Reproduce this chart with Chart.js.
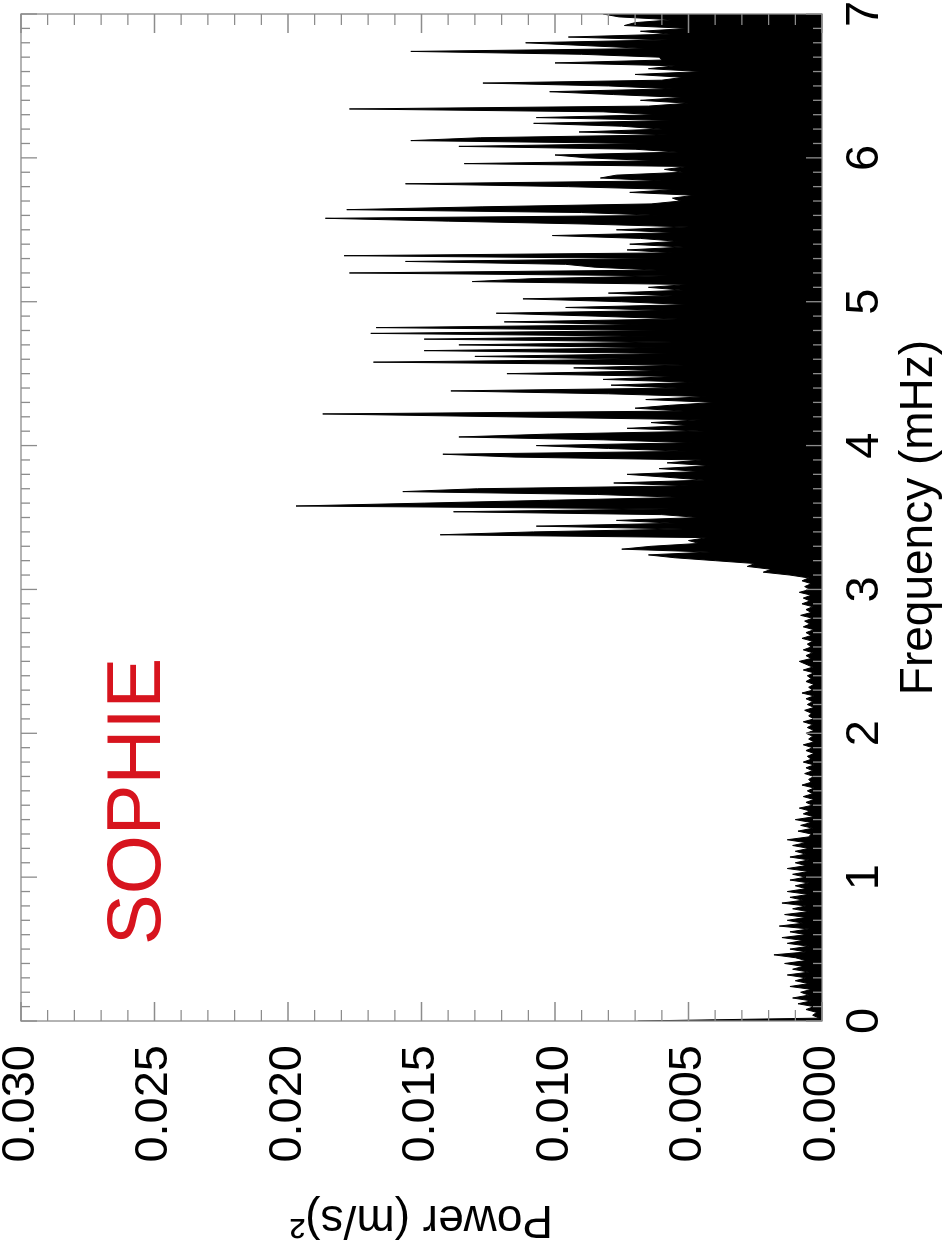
<!DOCTYPE html>
<html>
<head>
<meta charset="utf-8">
<script src="https://cdn.jsdelivr.net/npm/chart.js@4"></script>
<style>
  html, body { margin: 0; padding: 0; background: #fff; overflow: hidden; }
  #wrap {
    position: absolute; left: 0; top: 0;
    width: 1254px; height: 947px;
    transform-origin: 0 0;
    transform: translateY(1254px) rotate(-90deg);
  }
</style>
</head>
<body>
<div id="wrap"><canvas id="chart" width="1254" height="947"></canvas></div>
<script>
// power spectrum, values in 1e-3 (m/s)^2, sampled every 0.02 mHz
const freqStep = 0.02

// 0.00 - 1.28 mHz
const lowStart = 0
const lowBand = [
  6.9, 0.1, 0.35, 0.2, 0.6, 0.3, 0.9, 0.4, 1.1, 0.5,
  0.8, 0.4, 1.2, 0.5, 1.0, 0.6, 1.3, 0.5, 1.1, 0.7,
  1.4, 0.6, 1.0, 1.8, 0.6, 1.2, 0.5, 1.3, 0.7, 1.5,
  0.6, 1.2, 0.5, 1.6, 0.7, 1.3, 0.6, 1.4, 0.5, 1.1,
  0.6, 1.5, 0.7, 1.2, 0.5, 1.3, 0.6, 1.0, 0.5, 1.2,
  0.6, 1.1, 0.5, 1.3, 0.6, 1.0, 0.5, 1.2, 0.6, 1.0,
  0.5, 1.1, 0.6, 1.3, 0.5
]

// 1.30 - 3.08 mHz
const midStart = 1.30
const midBand = [
  0.4, 0.9, 0.35, 0.8, 0.4, 1.0, 0.3, 0.7, 0.45, 0.85, 0.35,
  0.6, 0.3, 0.7, 0.35, 0.55, 0.3, 0.75, 0.4, 0.5, 0.3, 0.65, 0.35,
  0.6, 0.3, 0.7, 0.4, 0.55, 0.3, 0.6, 0.35, 0.7, 0.3, 0.5, 0.35,
  0.6, 0.3, 0.55, 0.35, 0.7, 0.3, 0.5, 0.4, 0.65, 0.3, 0.55, 0.35,
  0.6, 0.3, 0.75, 0.35, 0.5, 0.3, 0.6, 0.4, 0.55, 0.3, 0.7, 0.35, 0.6,
  0.85, 0.4, 0.6, 0.35, 0.7, 0.4, 0.55, 0.35, 0.75, 0.4,
  0.6, 0.3, 0.7, 0.45, 0.65, 0.35, 0.8, 0.4, 0.6, 0.35,
  0.75, 0.45, 0.7, 0.4, 0.85, 0.45, 0.65, 0.4, 0.75, 0.5
]

// 3.10 - 7.00 mHz (p-mode region)
const modeStart = 3.10
const modeBand = [
  1.2, 2.2, 1.9, 2.8, 2.5, 4.0, 5.5, 6.5, 4.2, 7.5,
  6.4, 4.6, 5.0, 4.3, 14.3, 10.8, 5.2, 10.7, 5.5, 7.7,
  4.6, 6.0, 13.8, 5.7, 19.7, 14.9, 10.2, 5.2, 8.4, 15.7,
  12.9, 5.0, 7.8, 4.4, 5.8, 7.3, 4.6, 6.1, 4.2, 5.8,
  4.5, 11.5, 14.2, 5.0, 8.0, 10.7, 4.8, 8.2, 13.6, 10.2,
  4.4, 7.3, 5.0, 6.4, 4.5, 11.8, 18.7, 5.2, 7.0, 5.7,
  4.0, 6.6, 4.3, 8.0, 13.9, 5.4, 7.9, 4.8, 8.2, 5.5,
  11.8, 6.0, 9.3, 5.2, 16.8, 7.0, 13.0, 5.5, 14.9, 6.2,
  13.6, 5.6, 14.9, 6.5, 16.9, 5.8, 16.7, 6.8, 11.9, 5.4,
  8.5, 12.2, 5.8, 9.6, 5.0, 7.5, 11.2, 5.6, 8.0, 5.2,
  6.5, 5.0, 13.1, 10.9, 5.8, 17.7, 6.2, 8.5, 9.6, 15.6,
  6.0, 17.9, 5.6, 7.3, 5.2, 7.2, 5.4, 6.8, 10.1, 5.5,
  7.7, 5.0, 8.8, 14.0, 18.6, 6.0, 9.0, 17.8, 12.7, 6.4,
  5.3, 5.6, 4.8, 7.2, 5.5, 9.5, 15.6, 6.0, 8.3, 7.7,
  5.2, 5.9, 5.0, 13.4, 6.2, 8.8, 10.0, 5.4, 7.0, 13.6,
  6.6, 15.4, 12.8, 5.8, 9.1, 6.0, 7.5, 10.8, 5.5, 10.7,
  6.2, 8.2, 17.7, 6.5, 5.0, 6.8, 5.2, 7.8, 10.2, 5.6,
  8.0, 12.7, 6.0, 5.2, 7.0, 4.5, 6.5, 5.5, 10.0, 6.0,
  6.1, 9.0, 15.4, 6.5, 8.8, 11.1, 5.8, 9.5, 5.7, 6.8,
  5.0, 7.4, 7.0, 5.6, 7.6, 8.2
]

const freqTicks = [0, 1, 2, 3, 4, 5, 6, 7]
const powerTicks = [0, 0.005, 0.010, 0.015, 0.020, 0.025, 0.030]

const points = []
for (const [start, band] of [[lowStart, lowBand], [midStart, midBand], [modeStart, modeBand]]) {
  band.forEach((v, i) => points.push({ x: start + i * freqStep, y: v / 1000 }))
}

const font = { family: '"Liberation Sans", Arial, sans-serif', size: 47 }

// inward ticks on all four sides + grey frame
const frame = {
  id: 'frame',
  afterDatasetsDraw(chart) {
    const { ctx, chartArea: a, scales: { x, y } } = chart
    ctx.save()
    ctx.strokeStyle = '#8c8c8c'
    ctx.lineWidth = 1.3
    ctx.beginPath()
    for (let i = 0; i <= 70; i++) {
      const px = x.getPixelForValue(i / 10)
      const len = i % 10 === 0 ? 16 : 9
      ctx.moveTo(px, a.top); ctx.lineTo(px, a.top + len)
      ctx.moveTo(px, a.bottom); ctx.lineTo(px, a.bottom - len)
    }
    for (let j = 0; j <= 30; j++) {
      const py = y.getPixelForValue(j / 1000)
      const len = j % 5 === 0 ? 19 : 11
      ctx.moveTo(a.left, py); ctx.lineTo(a.left + len, py)
      ctx.moveTo(a.right, py); ctx.lineTo(a.right - len, py)
    }
    ctx.stroke()
    ctx.strokeRect(a.left, a.top, a.right - a.left, a.bottom - a.top)

    ctx.fillStyle = '#d7141e'
    ctx.font = '76px "Liberation Sans", Arial, sans-serif'
    ctx.textBaseline = 'alphabetic'
    ctx.fillText('SOPHIE', a.left + 76, a.top + 139)
    ctx.restore()
  }
}

new Chart(document.getElementById('chart'), {
  type: 'line',
  data: {
    datasets: [{
      data: points,
      borderColor: '#000',
      backgroundColor: '#000',
      borderWidth: 1,
      pointRadius: 0,
      fill: 'origin',
      tension: 0
    }]
  },
  options: {
    responsive: false,
    animation: false,
    devicePixelRatio: 1,
    layout: { padding: { top: 21, right: 14, left: 0, bottom: 0 } },
    plugins: { legend: { display: false }, tooltip: { enabled: false } },
    scales: {
      x: {
        type: 'linear',
        min: 0,
        max: 7,
        afterBuildTicks: (s) => { s.ticks = freqTicks.map((v) => ({ value: v })) },
        afterFit: (s) => { s.height = 125; s.paddingLeft = 0; s.paddingRight = 0 },
        ticks: { font, color: '#000', padding: 7, maxRotation: 0, callback: (v) => String(v) },
        grid: { display: false },
        border: { display: false },
        title: { display: true, text: 'Frequency (mHz)', font: { ...font, size: 46 }, color: '#000', padding: { top: 0, bottom: 0 } }
      },
      y: {
        type: 'linear',
        min: 0,
        max: 0.030,
        afterBuildTicks: (s) => { s.ticks = powerTicks.map((v) => ({ value: v })) },
        afterFit: (s) => { s.width = 233; s.paddingTop = 0; s.paddingBottom = 0 },
        ticks: { font, color: '#000', padding: 16, callback: (v) => v.toFixed(3) },
        grid: { display: false },
        border: { display: false },
        title: { display: true, text: 'Power (m/s)²', font: { ...font, size: 46 }, color: '#000', padding: { top: 8, bottom: 0 } }
      }
    }
  },
  plugins: [frame]
})
</script>
</body>
</html>
